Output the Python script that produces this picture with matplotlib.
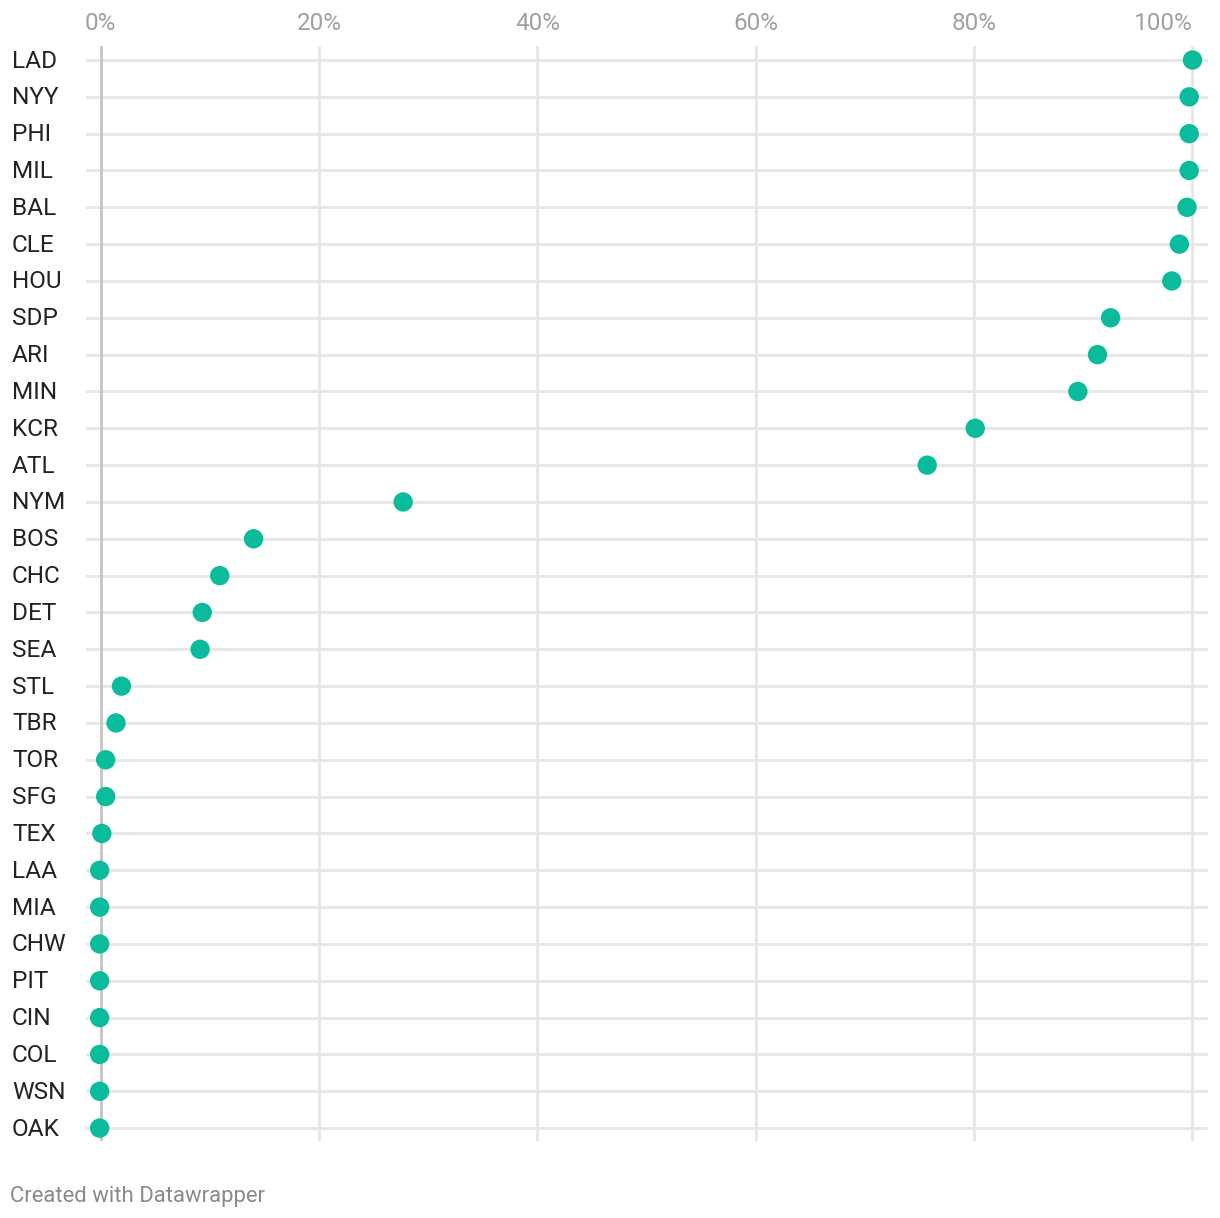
import matplotlib
matplotlib.use("Agg")
import matplotlib.pyplot as plt

plt.rcParams['font.family'] = ['Roboto', 'DejaVu Sans']

teams = ["LAD", "NYY", "PHI", "MIL", "BAL", "CLE", "HOU", "SDP", "ARI", "MIN",
         "KCR", "ATL", "NYM", "BOS", "CHC", "DET", "SEA", "STL", "TBR", "TOR",
         "SFG", "TEX", "LAA", "MIA", "CHW", "PIT", "CIN", "COL", "WSN", "OAK"]
values = [100.0, 99.7, 99.7, 99.7, 99.5, 98.8, 98.1, 92.5, 91.3, 89.5,
          80.1, 75.7, 27.7, 14.0, 10.9, 9.3, 9.1, 1.9, 1.4, 0.45,
          0.45, 0.1, -0.1, -0.1, -0.1, -0.1, -0.1, -0.1, -0.1, -0.1]
ticks = [0, 20, 40, 60, 80, 100]
tick_labels = ["0%", "20%", "40%", "60%", "80%", "100%"]

W, H = 1220, 1218
fig = plt.figure(figsize=(W / 100, H / 100), dpi=100)
# axes spans pixel x 86..1208, y 46..1141
ax = fig.add_axes([86 / W, 1 - 1141 / H, (1208 - 86) / W, (1141 - 46) / H])

ax.set_xlim(-1.35, 101.42)
ax.set_ylim(29.35, -0.38)
for s in ax.spines.values():
    s.set_visible(False)
ax.set_xticks([])
ax.set_yticks([])

rows = list(range(len(teams)))

# gridlines
for t in ticks:
    col = "#c4c4c4" if t == 0 else "#e6e6e6"
    ax.axvline(t, color=col, lw=2, zorder=1)
for r in rows:
    ax.axhline(r, color="#e6e6e6", lw=2, zorder=0)

ax.scatter(values, rows, s=195, color="#0bbc9c", edgecolors="none", zorder=3, clip_on=False)

# top tick labels (last one right-aligned to its gridline)
for t, lab in zip(ticks, tick_labels):
    xpix = 100.7 + t * 10.918
    ha = "right" if t == ticks[-1] else "center"
    fig.text(xpix / W, 1 - 21 / H, lab, ha=ha, va="center_baseline",
             fontsize=17.5, color="#a0a0a0")

# team labels
for r, name in zip(rows, teams):
    ypix = 58.5 + r * 36.83
    fig.text(12 / W, 1 - ypix / H, name, ha="left", va="center_baseline",
             fontsize=17.6, color="#222222")

fig.text(10 / W, 1 - 1194 / H, "Created with Datawrapper", ha="left", va="center_baseline",
         fontsize=15.9, color="#8a8a8a")

fig.savefig("out.png", dpi=100)
